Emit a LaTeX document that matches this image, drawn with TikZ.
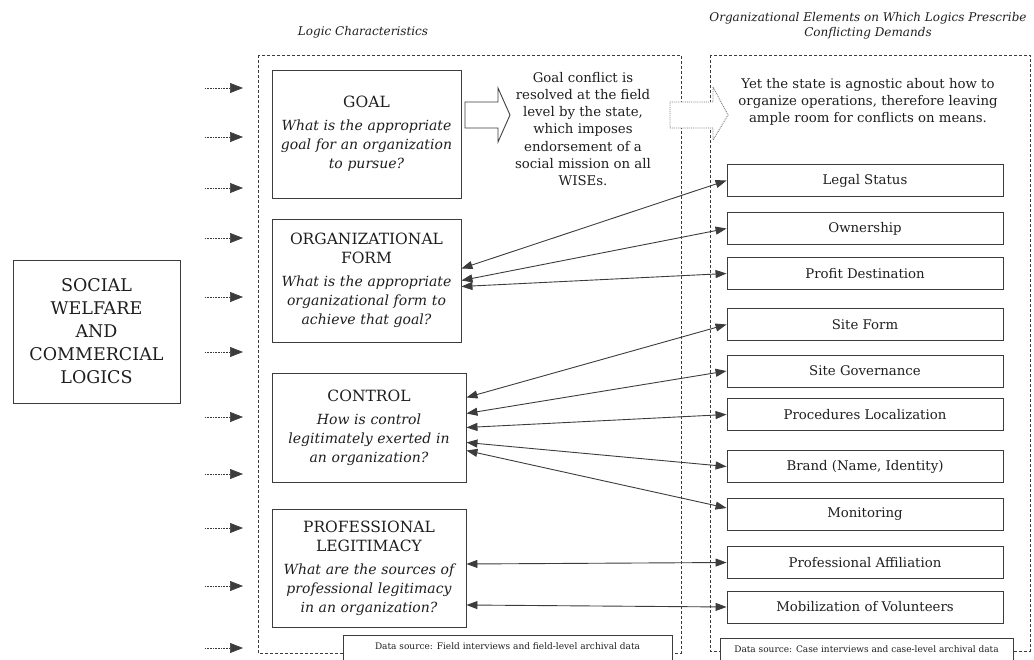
\documentclass[tikz,border=0pt]{standalone}
\usepackage{fontspec}
\setmainfont{DejaVu Serif}
\usetikzlibrary{calc,positioning,arrows.meta}
\definecolor{inkgray}{RGB}{30,30,30}
\definecolor{linegray}{RGB}{60,60,60}
\newcommand{\titlefont}{\fontsize{15.5}{19}\selectfont}

\begin{document}
\begin{tikzpicture}[x=1pt,y=-1pt,
    logicbox/.style={draw=linegray, line width=0.9pt, align=center, inner sep=0pt, text=inkgray, font=\fontsize{14}{19}\selectfont},
    elembox/.style={draw=linegray, line width=0.9pt, minimum width=276pt, minimum height=32pt, inner sep=0pt, text=inkgray, font=\fontsize{13.3}{16}\selectfont},
    region/.style={draw=linegray, line width=0.8pt, dash pattern=on 3pt off 2pt},
    feed/.style={densely dotted, draw=linegray, line width=0.6pt, -{Triangle[length=13pt,width=10pt]}},
    link/.style={draw=linegray, line width=0.9pt, {Triangle[length=11pt,width=8pt]}-{Triangle[length=11pt,width=8pt]}},
    srcbox/.style={draw=linegray, line width=0.9pt, fill=white, anchor=north, inner ysep=7pt, text depth=20pt, text=inkgray, font=\fontsize{9}{11}\selectfont},
    note/.style={align=center, text=inkgray, font=\fontsize{13.3}{17.2}\selectfont},
    heading/.style={align=center, text=inkgray, font=\fontsize{12}{15}\selectfont\itshape}
  ]
  \useasboundingbox (0,0) rectangle (1034,660);

  % Headings
  \node[heading] (logichead) at (363,32) {Logic Characteristics};
  \node[heading] (elemhead) at (868,26) {Organizational Elements on Which Logics Prescribe\\Conflicting Demands};

  % Dashed regions
  \draw[region] (258,55) rectangle (681,653);
  \draw[region] (710,55) rectangle (1030,651);

  % Institutional logics
  \node[logicbox, minimum width=167pt, minimum height=143pt, font=\fontsize{17.5}{23}\selectfont] (logics) at (96.5,331.5)
    {SOCIAL\\WELFARE\\AND\\COMMERCIAL\\LOGICS};

  % Incoming dotted arrows
  \foreach \yy [count=\i] in {88,137,188,238,297,352,417,474,528,586,648} {
    \coordinate (feedfrom\i) at (205,\yy);
    \coordinate (feedto\i) at (243,\yy);
    \draw[feed] (feedfrom\i) -- (feedto\i);
  }

  % Logic characteristics
  \node[logicbox, minimum width=189pt, minimum height=128pt, text width=185pt] (goal) at (366.5,134)
    {{\titlefont GOAL}\\[4pt]\itshape What is the appropriate\\goal for an organization\\to pursue?};
  \node[logicbox, minimum width=189pt, minimum height=123pt, text width=185pt] (orgform) at (366.5,280.5)
    {{\titlefont ORGANIZATIONAL}\\{\titlefont FORM}\\[4pt]\itshape What is the appropriate\\organizational form to\\achieve that goal?};
  \node[logicbox, minimum width=194pt, minimum height=109pt, text width=190pt] (control) at (369,427.5)
    {{\titlefont CONTROL}\\[4pt]\itshape How is control\\legitimately exerted in\\an organization?};
  \node[logicbox, minimum width=194pt, minimum height=118pt, text width=190pt] (proflegit) at (369,568)
    {{\titlefont PROFESSIONAL}\\{\titlefont LEGITIMACY}\\[4pt]\itshape What are the sources of\\professional legitimacy\\in an organization?};

  % Block arrows
  \draw[draw=linegray, line width=0.9pt, fill=white]
    (465,102) -- (498,102) -- (498,88) -- (510,115) -- (498,142) -- (498,128) -- (465,128) -- cycle;
  \draw[draw=linegray!70, densely dotted, line width=0.9pt, fill=white]
    (670,102) -- (713,102) -- (713,87) -- (728,115) -- (713,140) -- (713,128) -- (670,128) -- cycle;

  \node[note] (resolved) at (583,129)
    {Goal conflict is\\resolved at the field\\level by the state,\\which imposes\\endorsement of a\\social mission on all\\WISEs.};
  \node[note] (agnostic) at (868,102)
    {Yet the state is agnostic about how to\\organize operations, therefore leaving\\ample room for conflicts on means.};

  % Organizational elements
  \node[elembox] (legal) at (865,180.5) {Legal Status};
  \node[elembox] (owner) at (865,228.5) {Ownership};
  \node[elembox] (profit) at (865,273.5) {Profit Destination};
  \node[elembox] (siteform) at (865,324.5) {Site Form};
  \node[elembox] (sitegov) at (865,371) {Site Governance};
  \node[elembox] (proc) at (865,414.5) {Procedures Localization};
  \node[elembox] (brand) at (865,466.5) {Brand (Name, Identity)};
  \node[elembox] (monitor) at (865,514) {Monitoring};
  \node[elembox] (profaff) at (865,562.5) {Professional Affiliation};
  \node[elembox] (volunteers) at (865,607) {Mobilization of Volunteers};

  % Links
  \draw[link] ([yshift=12pt]orgform.east) -- (legal.west);
  \draw[link] (orgform.east) -- (owner.west);
  \draw[link] ([yshift=-6pt]orgform.east) -- (profit.west);
  \draw[link] ([yshift=30pt]control.east) -- (siteform.west);
  \draw[link] ([yshift=14pt]control.east) -- (sitegov.west);
  \draw[link] (control.east) -- (proc.west);
  \draw[link] ([yshift=-15pt]control.east) -- (brand.west);
  \draw[link] ([yshift=-23pt]control.east) -- ([yshift=6pt]monitor.west);
  \draw[link] ([yshift=4pt]proflegit.east) -- (profaff.west);
  \draw[link] ([yshift=-37pt]proflegit.east) -- (volunteers.west);

  % Data sources
  \node[srcbox, minimum width=329pt] (fieldsrc) at (507.5,635) {Data source: Field interviews and field-level archival data};
  \node[srcbox, minimum width=293pt] (casesrc) at (866.5,638) {Data source: Case interviews and case-level archival data};
\end{tikzpicture}
\end{document}
